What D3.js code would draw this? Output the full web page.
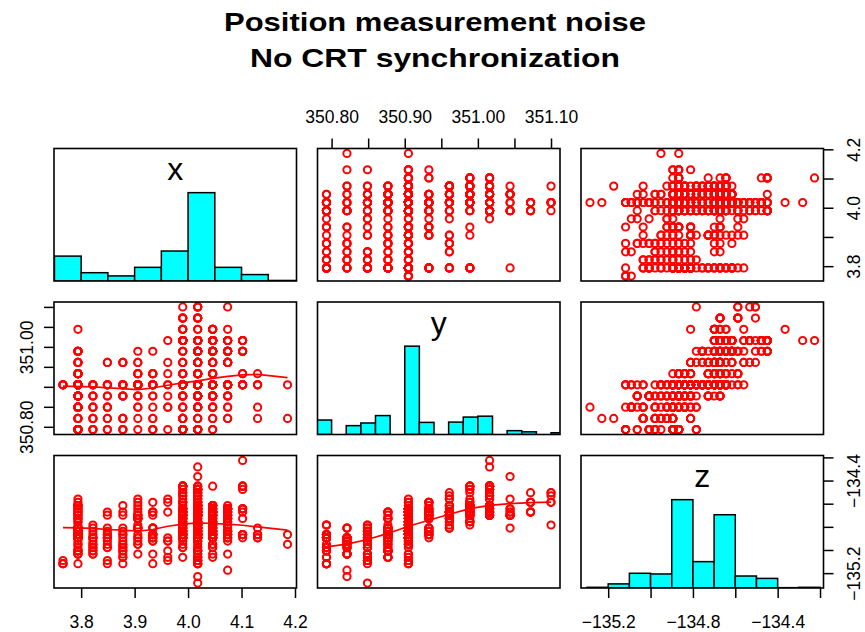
<!DOCTYPE html>
<html>
<head>
<meta charset="utf-8">
<script src="https://cdn.jsdelivr.net/npm/d3@7/dist/d3.min.js"></script>
<style>
  body { margin: 0; background: #ffffff; }
  svg text { font-family: "Liberation Sans", Arial, Helvetica, sans-serif; }
</style>
</head>
<body>
<div id="chart"></div>
<script>
var xLevels = [3.766, 3.794, 3.822, 3.849, 3.878, 3.906, 3.934, 3.962, 3.990, 4.018, 4.046, 4.074, 4.102, 4.130, 4.158, 4.186];
var yLevels = [350.793, 350.821, 350.849, 350.877, 350.905, 350.933, 350.961, 350.989, 351.016, 351.044, 351.072, 351.100];
var zLevels = [-135.286, -135.258, -135.230, -135.202, -135.174, -135.146, -135.118, -135.091, -135.063, -135.035,
  -135.007, -134.979, -134.951, -134.923, -134.895, -134.867, -134.839, -134.811, -134.784, -134.756,
  -134.728, -134.699, -134.672, -134.644, -134.616, -134.588, -134.560, -134.532, -134.505, -134.477,
  -134.449, -134.421, -134.393, -134.365, -134.337, -134.310, -134.282, -134.254, -134.226];

// readings: [x level, y level, z level, repeats]
var readings = [
  [0,4,6,3],[0,4,7,1],
  [1,0,6,1],[1,0,10,1],[1,0,14,4],[1,0,15,6],[1,1,11,1],[1,1,13,1],[1,1,14,2],
  [1,2,9,3],[1,2,12,1],[1,2,14,1],[1,2,16,3],[1,2,18,1],[1,3,10,4],[1,3,14,1],[1,3,15,5],[1,3,17,1],
  [1,4,12,1],[1,4,14,1],[1,4,15,9],[1,4,16,7],[1,4,17,5],[1,4,19,1],[1,4,20,3],[1,4,22,3],[1,4,23,3],[1,4,25,1],
  [1,5,16,4],[1,5,17,4],[1,6,19,1],[1,6,21,3],[1,7,24,5],[1,7,26,1],[1,9,22,1],
  [2,0,10,1],[2,0,11,1],[2,0,14,1],[2,1,9,1],[2,1,12,1],[2,1,14,1],[2,2,11,1],[2,2,13,1],[2,2,17,1],
  [2,3,10,1],[2,3,12,1],[2,3,15,1],[2,4,9,1],[2,4,14,1],[2,4,16,1],[2,4,18,1],
  [3,0,11,1],[3,0,14,1],[3,1,11,1],[3,1,13,1],[3,2,6,1],[3,2,7,1],[3,2,15,1],[3,3,14,1],[3,3,16,1],
  [3,4,12,1],[3,4,14,1],[3,4,15,1],[3,4,17,1],[3,6,21,1],[3,6,22,1],
  [4,0,6,1],[4,0,8,1],[4,0,10,1],[4,1,9,1],[4,1,11,1],[4,1,12,1],[4,3,8,1],[4,3,10,1],[4,3,11,1],[4,3,13,1],
  [4,4,12,1],[4,4,14,1],[4,4,15,2],[4,4,16,1],[4,4,17,1],[4,6,21,1],[4,6,22,1],[4,6,24,1],
  [5,0,12,1],[5,1,9,1],[5,2,13,1],[5,2,14,1],[5,3,12,1],[5,3,15,1],[5,3,18,1],
  [5,4,14,1],[5,4,17,6],[5,4,20,3],[5,4,21,4],[5,4,23,1],[5,5,20,3],[5,5,22,1],[5,6,24,1],[5,6,26,1],[5,7,25,1],
  [6,0,6,1],[6,0,14,2],[6,1,9,1],[6,1,13,1],[6,2,13,1],[6,3,14,1],[6,3,15,1],[6,4,15,5],[6,4,17,4],
  [6,5,21,1],[6,5,22,3],[6,7,25,1],
  [7,0,10,1],[7,2,7,1],[7,2,8,1],[7,3,13,1],[7,4,13,1],[7,4,14,1],[7,5,25,1],[7,6,22,1],[7,8,26,1],
  [8,0,14,5],[8,0,15,5],[8,0,18,3],[8,1,14,3],[8,1,17,3],[8,2,11,1],[8,2,16,1],[8,2,18,1],
  [8,3,11,1],[8,3,20,4],[8,3,21,1],
  [8,4,8,1],[8,4,12,1],[8,4,13,1],[8,4,14,1],[8,4,15,6],[8,4,16,6],[8,4,17,1],[8,4,18,1],[8,4,19,4],
  [8,4,20,1],[8,4,21,1],[8,4,22,6],[8,4,23,6],[8,4,24,1],
  [8,5,16,1],[8,5,22,1],[8,5,25,3],[8,6,23,1],[8,6,27,1],[8,6,28,1],[8,7,20,1],[8,7,25,1],[8,7,29,1],
  [8,8,21,7],[8,8,26,1],[8,8,28,1],[8,8,30,9],[8,9,17,1],[8,9,21,3],[8,10,22,4],[8,11,27,1],
  [9,0,6,4],[9,0,10,1],[9,0,14,4],[9,1,2,1],[9,1,11,1],[9,1,13,1],
  [9,2,0,1],[9,2,7,3],[9,2,9,1],[9,2,14,1],[9,2,15,3],
  [9,3,8,4],[9,3,10,4],[9,3,13,1],[9,3,17,4],[9,3,22,4],
  [9,4,7,1],[9,4,9,1],[9,4,11,1],[9,4,12,1],[9,4,13,1],[9,4,14,11],[9,4,15,9],[9,4,16,11],[9,4,17,10],
  [9,4,18,7],[9,4,19,7],[9,4,20,3],[9,4,21,15],[9,4,22,18],[9,4,23,14],[9,4,25,1],[9,4,26,1],
  [9,5,15,5],[9,5,21,5],[9,5,24,1],[9,6,17,3],[9,6,22,7],[9,6,26,1],
  [9,7,18,1],[9,7,24,11],[9,7,28,1],[9,7,30,3],[9,8,27,5],[9,8,29,9],[9,8,36,1],
  [9,9,26,1],[9,9,33,1],[9,10,25,4],[9,10,28,1],[9,11,25,2],[9,11,28,2],
  [10,0,8,1],[10,0,11,1],[10,1,9,1],[10,1,12,1],[10,2,11,1],[10,2,14,3],
  [10,3,12,1],[10,3,15,5],[10,3,16,5],
  [10,4,14,6],[10,4,15,9],[10,4,16,9],[10,4,17,6],[10,4,18,4],[10,4,19,3],[10,4,20,3],[10,4,21,4],[10,4,22,3],
  [10,5,20,1],[10,5,23,4],[10,6,18,1],[10,6,21,5],[10,6,24,1],
  [10,7,19,5],[10,7,22,11],[10,7,30,1],[10,8,22,9],[10,8,24,7],[10,9,21,3],[10,9,23,2],
  [11,1,4,1],[11,1,9,1],[11,2,13,1],[11,2,16,1],[11,3,14,3],[11,3,17,1],
  [11,4,15,5],[11,4,16,4],[11,4,18,3],[11,4,19,2],[11,4,20,1],
  [11,6,19,1],[11,6,20,4],[11,6,22,4],[11,7,21,6],[11,7,23,4],[11,8,23,6],[11,8,24,1],[11,9,22,1],[11,11,18,1],
  [12,4,14,1],[12,4,15,5],[12,5,20,1],[12,5,22,1],[12,7,23,4],[12,7,29,1],[12,8,30,4],[12,8,38,1],
  [13,1,14,1],[13,2,17,1],[13,4,15,3],[13,5,14,1],
  [15,1,12,1],[15,4,15,1]
];

var names = ["x", "y", "z"];

// histogram breaks
var xBreaks = [3.75, 3.80, 3.85, 3.90, 3.95, 4.00, 4.05, 4.10, 4.15, 4.20];
var yBreaks = [350.78, 350.80, 350.82, 350.84, 350.86, 350.88, 350.90, 350.92, 350.94, 350.96,
  350.98, 351.00, 351.02, 351.04, 351.06, 351.08, 351.10, 351.12];
var zBreaks = [-135.3, -135.2, -135.1, -135.0, -134.9, -134.8, -134.7, -134.6, -134.5, -134.4, -134.3, -134.2];

// smoother lines in the lower panels
var smoothYX_x = [3.766, 3.822, 3.906, 3.934, 3.962, 3.990, 4.018, 4.046, 4.074, 4.102, 4.130, 4.186];
var smoothYX_y = [350.902, 350.900, 350.893, 350.897, 350.904, 350.910, 350.915, 350.921, 350.926, 350.930, 350.931, 350.923];
var smoothZX_x = [3.766, 3.794, 3.822, 3.849, 3.878, 3.906, 3.934, 3.962, 3.990, 4.018, 4.046, 4.074, 4.102, 4.130, 4.186];
var smoothZX_z = [-134.806, -134.809, -134.814, -134.823, -134.829, -134.838, -134.823, -134.795, -134.777, -134.766,
  -134.771, -134.777, -134.786, -134.801, -134.829];
var smoothZY_y = [350.793, 350.821, 350.849, 350.877, 350.905, 350.933, 350.961, 350.989, 351.016, 351.044, 351.072, 351.100];
var smoothZY_z = [-134.973, -134.949, -134.909, -134.857, -134.795, -134.743, -134.691, -134.642, -134.614, -134.599, -134.591, -134.586];

// ticks and their labels ("" = tick without label)
var xTicks = [3.8, 3.9, 4.0, 4.1, 4.2];
var xLabelsBottom = ["3.8", "3.9", "4.0", "4.1", "4.2"];
var xLabelsRight = ["3.8", "", "4.0", "", "4.2"];
var yTicks = [350.80, 350.85, 350.90, 350.95, 351.00, 351.05, 351.10];
var yLabelsTop = ["350.80", "", "350.90", "", "351.00", "", "351.10"];
var yLabelsLeft = ["350.80", "", "", "", "351.00", "", ""];
var zTicks = [-135.2, -135.0, -134.8, -134.6, -134.4, -134.2];
var zLabelsBottom = ["\u2212135.2", "", "\u2212134.8", "", "\u2212134.4", ""];
var zLabelsRight = ["\u2212135.2", "", "", "", "\u2212134.4", ""];

var width = 865;
var height = 632;
var cellLeft = [54, 317.5, 581];
var cellTop = [148.5, 302, 455.5];
var cellW = 242.5;
var cellH = 132.5;

var x = [], y = [], z = [];
readings.forEach(function (r) {
  for (var k = 0; k < r[3]; k++) {
    x.push(xLevels[r[0]]);
    y.push(yLevels[r[1]]);
    z.push(zLevels[r[2]]);
  }
});
var vars = [x, y, z];
var breaks = [xBreaks, yBreaks, zBreaks];
var smooths = {
  "1,0": [smoothYX_x, smoothYX_y],
  "2,0": [smoothZX_x, smoothZX_z],
  "2,1": [smoothZY_y, smoothZY_z]
};

// R style range: data extent widened by 4%
function padded(v) {
  var e = d3.extent(v);
  var p = (e[1] - e[0]) * 0.04;
  return [e[0] - p, e[1] + p];
}

var colScale = vars.map(function (v, j) {
  return d3.scaleLinear().domain(padded(v)).range([cellLeft[j], cellLeft[j] + cellW]);
});
var rowScale = vars.map(function (v, i) {
  return d3.scaleLinear().domain(padded(v)).range([cellTop[i] + cellH, cellTop[i]]);
});

var svg = d3
  .select("#chart")
  .append("svg")
  .attr("width", width)
  .attr("height", height);

svg.append("rect").attr("width", width).attr("height", height).attr("fill", "#ffffff");

var defs = svg.append("defs");
var idx = d3.range(x.length);

for (var i = 0; i < 3; i++) {
  for (var j = 0; j < 3; j++) {
    var id = "clip" + i + j;
    defs.append("clipPath").attr("id", id)
      .append("rect")
      .attr("x", cellLeft[j]).attr("y", cellTop[i])
      .attr("width", cellW).attr("height", cellH);

    var g = svg.append("g").attr("clip-path", "url(#" + id + ")");
    var sx = colScale[j];

    if (i === j) {
      var b = breaks[i];
      var bins = d3.bin().domain([b[0], b[b.length - 1]]).thresholds(b.slice(1, -1))(vars[i]);
      var maxCount = d3.max(bins, function (d) { return d.length; });
      var hy = d3.scaleLinear().domain([0, 1.5]).range([cellTop[i] + cellH, cellTop[i]]);

      g.selectAll("rect")
        .data(bins.filter(function (d) { return d.length > 0; }))
        .join("rect")
        .attr("x", function (d) { return sx(d.x0); })
        .attr("width", function (d) { return sx(d.x1) - sx(d.x0); })
        .attr("y", function (d) { return hy(d.length / maxCount); })
        .attr("height", function (d) { return hy(0) - hy(d.length / maxCount); })
        .attr("fill", "#00ffff")
        .attr("stroke", "#000000")
        .attr("stroke-width", 1.5);

      svg.append("text")
        .attr("x", cellLeft[j] + cellW / 2)
        .attr("y", cellTop[i] + 31.5)
        .attr("text-anchor", "middle")
        .attr("font-size", 32)
        .attr("fill", "#000000")
        .text(names[i]);
    } else {
      var sy = rowScale[i];
      var vx = vars[j], vy = vars[i];
      g.selectAll("circle")
        .data(idx)
        .join("circle")
        .attr("cx", function (d) { return sx(vx[d]); })
        .attr("cy", function (d) { return sy(vy[d]); })
        .attr("r", 3.6)
        .attr("fill", "none")
        .attr("stroke", "#ff0000")
        .attr("stroke-width", 2);

      var sm = smooths[i + "," + j];
      if (sm) {
        var line = d3.line()
          .x(function (d) { return sx(d[0]); })
          .y(function (d) { return sy(d[1]); });
        g.append("path")
          .attr("d", line(d3.zip(sm[0], sm[1])))
          .attr("fill", "none")
          .attr("stroke", "#ff0000")
          .attr("stroke-width", 1.7);
      }
    }

    svg.append("rect")
      .attr("x", cellLeft[j]).attr("y", cellTop[i])
      .attr("width", cellW).attr("height", cellH)
      .attr("fill", "none")
      .attr("stroke", "#000000")
      .attr("stroke-width", 1.6);
  }
}

function drawAxis(axis, tx, ty, labels, place) {
  var a = svg.append("g")
    .attr("transform", "translate(" + tx + "," + ty + ")")
    .call(axis.tickSize(10).tickSizeOuter(0).tickFormat(function (d, k) { return labels[k]; }));
  a.select(".domain").remove();
  a.selectAll(".tick line").attr("stroke", "#000000").attr("stroke-width", 1.5);
  var t = a.selectAll(".tick text").attr("font-size", 17.5).attr("fill", "#000000").attr("dy", 0);
  place(t);
}

drawAxis(d3.axisBottom(colScale[0]).tickValues(xTicks), 0, cellTop[2] + cellH, xLabelsBottom,
  function (t) { t.attr("y", 39.5); });
drawAxis(d3.axisBottom(colScale[2]).tickValues(zTicks), 0, cellTop[2] + cellH, zLabelsBottom,
  function (t) { t.attr("y", 39.5); });
drawAxis(d3.axisTop(colScale[1]).tickValues(yTicks), 0, cellTop[0], yLabelsTop,
  function (t) { t.attr("y", -25.2); });
drawAxis(d3.axisLeft(rowScale[1]).tickValues(yTicks), cellLeft[0], 0, yLabelsLeft,
  function (t) {
    t.attr("x", 0).attr("y", -21).attr("text-anchor", "middle").attr("transform", "rotate(-90)");
  });
drawAxis(d3.axisRight(rowScale[0]).tickValues(xTicks), cellLeft[2] + cellW, 0, xLabelsRight,
  function (t) {
    t.attr("x", 0).attr("y", 36.5).attr("text-anchor", "middle").attr("transform", "rotate(-90)");
  });
drawAxis(d3.axisRight(rowScale[2]).tickValues(zTicks), cellLeft[2] + cellW, 0, zLabelsRight,
  function (t) {
    t.attr("x", 0).attr("y", 36.5).attr("text-anchor", "middle").attr("transform", "rotate(-90)");
  });

// title
var title = ["Position measurement noise", "No CRT synchronization"];
var titleWidth = [422, 370];
svg.selectAll("text.title")
  .data(title)
  .join("text")
  .attr("class", "title")
  .attr("x", 435)
  .attr("y", function (d, k) { return 31 + k * 36; })
  .attr("text-anchor", "middle")
  .attr("font-size", 25)
  .attr("font-weight", "bold")
  .attr("fill", "#000000")
  .attr("textLength", function (d, k) { return titleWidth[k]; })
  .attr("lengthAdjust", "spacingAndGlyphs")
  .text(function (d) { return d; });
</script>
</body>
</html>
